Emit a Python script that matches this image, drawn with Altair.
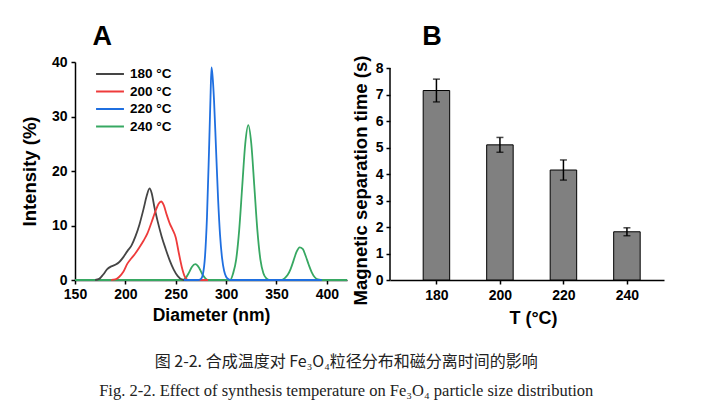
import altair as alt
import pandas as pd

# ---------------- Panel A data (Intensity vs Diameter) ----------------
green_x = [150, 257, 260, 263, 266, 269.5, 273, 276, 279, 282, 304, 307, 310, 313, 316, 319, 322,
           325, 328, 331, 334, 337, 340, 343, 355, 358, 361, 364, 367, 370, 373, 376, 379, 382, 385,
           388, 391, 394, 420]
green_y = [0, 0, 0.4, 1.3, 2.4, 2.9, 2.3, 1.2, 0.4, 0, 0, 1.25, 3.8, 9.2, 17.2, 25.0, 28.4,
           25.0, 17.2, 9.2, 3.8, 1.25, 0.3, 0, 0, 0.3, 0.9, 2.0, 3.6, 5.2, 6.0, 5.7, 4.4, 2.8, 1.4,
           0.5, 0.1, 0, 0]
black_x = [170, 174, 178, 182, 186, 190, 194, 198, 202, 206, 210, 214, 218, 221, 224, 226, 229,
           232, 236, 240, 244, 248, 252, 256, 260, 264]
black_y = [0, 0.2, 1.0, 2.0, 2.5, 2.8, 3.3, 4.2, 5.3, 6.3, 8.0, 10.2, 13.0, 15.3, 16.8, 16.0, 13.2,
           10.8, 8.0, 5.7, 3.6, 1.9, 0.7, 0.1, 0, 0]
red_x = [186, 190, 194, 198, 202, 206, 210, 214, 218, 222, 226, 230, 233, 235.5, 238, 241, 244,
         247, 250, 253, 256, 259, 262, 282]
red_y = [0, 0.1, 0.6, 1.5, 3.0, 4.0, 4.9, 6.0, 7.2, 8.6, 10.6, 12.7, 14.0, 14.4, 13.8, 12.0, 10.4,
         9.2, 7.8, 5.0, 2.4, 0.6, 0, 0]
blue_x = [258, 272, 275, 277, 279, 281, 283, 284.5, 285.5, 286.5, 288, 290, 292, 294, 296, 298,
          300, 302, 305, 395]
blue_y = [0, 0, 0.2, 1.1, 4.2, 11.5, 23.5, 33.5, 39.0, 37.5, 33.0, 24.0, 15.0, 8.2, 4.0, 1.7,
          0.6, 0.2, 0, 0]

series_names = ["180 °C", "200 °C", "220 °C", "240 °C"]
series_colors = ["#454545", "#ee3b3b", "#1f6fe0", "#37a862"]

# ---------------- Panel B data (Magnetic separation time) ----------------
temps = [180, 200, 220, 240]
sep_time = [7.15, 5.1, 4.15, 1.82]
sep_err = [0.43, 0.28, 0.38, 0.15]
b_ticks = [0, 1, 2, 3, 4, 5, 6, 7, 8]

# ---------------- Build tables ----------------
rows = []
order = 0
for name, xs, ys in [("240 °C", green_x, green_y), ("180 °C", black_x, black_y),
                     ("200 °C", red_x, red_y), ("220 °C", blue_x, blue_y)]:
    for x, y in zip(xs, ys):
        rows.append({"series": name, "d": x, "v": y, "o": order})
        order += 1
dfA = pd.DataFrame(rows)

dfB = pd.DataFrame({"T": temps, "t": sep_time,
                    "lo": [a - b for a, b in zip(sep_time, sep_err)],
                    "hi": [a + b for a, b in zip(sep_time, sep_err)]})

FONT = "Liberation Sans"

axis_common = dict(tickColor="black", tickWidth=1.5, tickSize=4, labelFont=FONT,
                   labelFontWeight="bold", labelColor="black", labelFlush=False,
                   labelOverlap=False, titleFont=FONT, titleFontWeight="bold",
                   titleColor="black", grid=False)

lines = alt.Chart(dfA).mark_line(strokeWidth=1.8, interpolate="monotone").encode(
    x=alt.X("d:Q", scale=alt.Scale(domain=[150, 420], nice=False),
            axis=alt.Axis(values=[150, 200, 250, 300, 350, 400], title="Diameter (nm)",
                          labelFontSize=14, titleFontSize=17.5, labelPadding=3, titlePadding=5,
                          domainColor="black", domainWidth=1.5, **axis_common)),
    y=alt.Y("v:Q", scale=alt.Scale(domain=[0, 40], nice=False),
            axis=alt.Axis(values=[0, 10, 20, 30, 40], title="Intensity (%)",
                          labelFontSize=14, titleFontSize=18.5, labelPadding=4, titlePadding=12,
                          domainColor="black", domainWidth=1.5, **axis_common)),
    color=alt.Color("series:N", scale=alt.Scale(domain=series_names, range=series_colors),
                    legend=alt.Legend(title=None, orient="none", legendX=25, legendY=2,
                                      symbolType="M-1.55,0H1.55", symbolSize=324,
                                      symbolStrokeWidth=2,
                                      labelFont=FONT, labelFontWeight="bold", labelFontSize=13.5,
                                      labelColor="black", labelOffset=10, rowPadding=0.5,
                                      padding=0)),
    detail="series:N",
    order="o:Q",
)

panelA = lines.properties(
    width=272, height=218,
    title=alt.TitleParams("A", anchor="start", fontSize=27, font=FONT, fontWeight="bold",
                          color="black", dx=72, offset=4),
)

# Panel B: y domain extended so the plot top (value 8) sits lower than panel A's top
ymax_b = 8 * 218 / 212
xs_b = alt.Scale(domain=[166.95, 250.1], nice=False, zero=False)
ys_b = alt.Scale(domain=[0, ymax_b], nice=False)

x_axis_b = alt.Axis(values=temps, format="d", title="T (°C)", labelFontSize=14,
                    titleFontSize=18, labelPadding=4, titlePadding=7, titleX=143,
                    domainColor="black", domainWidth=1.5, **axis_common)
y_axis_b = alt.Axis(values=b_ticks, title="Magnetic separation time  (s)",
                    labelFontSize=14, titleFontSize=18.5, labelPadding=3, titlePadding=5,
                    titleY=118, domain=False, tickCount=9, **axis_common)

bars = alt.Chart(dfB).mark_bar(size=26.5, color="#808080", stroke="black", strokeWidth=1).encode(
    x=alt.X("T:Q", scale=xs_b, axis=x_axis_b),
    y=alt.Y("t:Q", scale=ys_b, axis=y_axis_b),
)
err = alt.Chart(dfB).mark_rule(color="black", strokeWidth=1.5).encode(
    x=alt.X("T:Q", axis=x_axis_b), y=alt.Y("lo:Q", axis=y_axis_b), y2="hi:Q")
caps_hi = alt.Chart(dfB).mark_tick(color="black", thickness=1.5, size=7, orient="horizontal").encode(
    x=alt.X("T:Q", axis=x_axis_b), y=alt.Y("hi:Q", axis=y_axis_b))
caps_lo = alt.Chart(dfB).mark_tick(color="black", thickness=1.5, size=7, orient="horizontal").encode(
    x=alt.X("T:Q", axis=x_axis_b), y=alt.Y("lo:Q", axis=y_axis_b))
yline = alt.Chart(pd.DataFrame({"a": [0]})).mark_rule(color="black", strokeWidth=1.5).encode(
    x=alt.value(0), y=alt.YDatum(0, scale=ys_b, axis=y_axis_b), y2=alt.datum(8))

panelB = alt.layer(bars, err, caps_hi, caps_lo, yline).properties(
    width=274, height=218,
    title=alt.TitleParams("B", anchor="start", fontSize=27, font=FONT, fontWeight="bold",
                          color="black", dx=71, offset=2),
)

chart = alt.hconcat(panelA, panelB, spacing=43, bounds="flush").resolve_scale(
    color="independent"
).properties(
    title=alt.TitleParams(
        "图 2-2. 合成温度对 Fe₃O₄粒径分布和磁分离时间的影响",
        subtitle="Fig. 2-2. Effect of synthesis temperature on Fe₃O₄ particle size distribution",
        orient="bottom", anchor="middle", dx=4, offset=27,
        font="Noto Sans CJK SC", fontSize=16, fontWeight="normal", color="#222222",
        subtitleFont="Liberation Serif", subtitleFontSize=16.5, subtitleColor="#222222",
        subtitlePadding=13,
    ),
    padding={"left": 20, "top": 22, "right": 10, "bottom": 10},
    background="white",
).configure_view(stroke=None)

chart.save("out.html", embed_options={"renderer": "svg", "actions": False})
